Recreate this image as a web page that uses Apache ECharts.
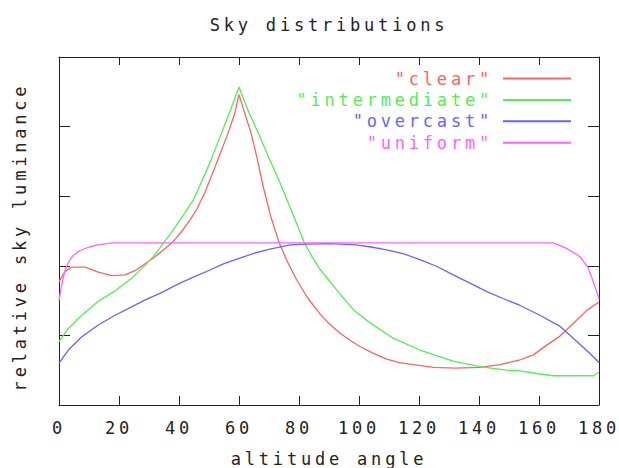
<!DOCTYPE html>
<html><head><meta charset="utf-8">
<script src="https://cdn.jsdelivr.net/npm/echarts/dist/echarts.min.js"></script>
<style>
html,body{margin:0;padding:0;background:#fff;}
#chart{width:619px;height:468px;}
#chart text{letter-spacing:3.8px;}
</style></head><body><div id="chart"></div>
<script>
// ---- data ----
const seriesNames = ['"clear"', '"intermediate"', '"overcast"', '"uniform"'];
const seriesColors = ['#ff6262', '#52ee52', '#6464ff', '#ff62ff'];

const clearAngles = [0, 2, 4.2, 8.7, 13.1, 17.6, 22, 25.3, 28.7, 31.4, 34, 38.1, 41, 43.7, 46, 48.6, 52, 56.4, 58.5, 60,
  62, 64, 66, 68, 70.5, 73.4, 76, 79.2, 83, 87, 90, 93.7, 97, 100.3, 104.5, 109.2, 113.5, 118.1, 124.8, 132, 140.3,
  147, 153.7, 158.1, 162.6, 167, 171.4, 175.9, 180];
const clearValues = [1.77, 1.92, 1.98, 1.98, 1.91, 1.86, 1.87, 1.93, 2.03, 2.11, 2.20, 2.35, 2.50, 2.66, 2.82, 3.05, 3.42, 3.91, 4.18, 4.46,
  4.18, 3.91, 3.55, 3.15, 2.72, 2.33, 2.07, 1.80, 1.53, 1.31, 1.17, 1.03, 0.93, 0.84, 0.75, 0.66, 0.61, 0.58, 0.54, 0.53, 0.54,
  0.58, 0.65, 0.72, 0.86, 0.99, 1.17, 1.36, 1.48];

const intermediateAngles = [0, 3.1, 7.6, 13.1, 18.7, 24.2, 28.7, 31.4, 34.2, 38.1, 41.5, 44.8, 46, 50, 54.2, 57, 60,
  63, 66.4, 70, 73.7, 77, 79.5, 81.8, 84.5, 87, 92.6, 98.1, 103.7, 111.4, 120.3, 131.4, 140.3, 149.2, 153.7, 158.1,
  164.8, 172, 178.1, 180];
const intermediateValues = [0.91, 1.10, 1.29, 1.49, 1.64, 1.82, 2.01, 2.13, 2.29, 2.52, 2.73, 2.95, 3.06, 3.45, 3.91, 4.22, 4.57,
  4.23, 3.91, 3.55, 3.19, 2.84, 2.58, 2.33, 2.12, 1.95, 1.65, 1.37, 1.18, 0.96, 0.79, 0.63, 0.55, 0.50, 0.49, 0.46,
  0.42, 0.42, 0.42, 0.47];

const overcastAngles = [0, 3.1, 7.6, 13.1, 18.7, 24.2, 28.7, 34, 40.3, 45, 50.3, 55, 60.3, 65, 70.3, 77, 82.6, 90, 99,
  104, 109.2, 115, 120.3, 126, 131.4, 137, 142.6, 148, 153.7, 160.3, 167, 173.7, 177, 180];
const overcastValues = [0.60, 0.79, 0.98, 1.15, 1.29, 1.41, 1.51, 1.61, 1.75, 1.84, 1.94, 2.03, 2.11, 2.18, 2.24, 2.30, 2.31, 2.32, 2.30,
  2.27, 2.23, 2.17, 2.09, 1.99, 1.87, 1.75, 1.63, 1.53, 1.43, 1.29, 1.13, 0.87, 0.74, 0.61];

const uniformAngles = [0, 1, 2, 3, 4.5, 7, 10, 13, 17.6, 164.8, 169.2, 173.7, 176.4, 178.1, 180];
const uniformValues = [1.50, 1.75, 1.93, 2.04, 2.14, 2.22, 2.27, 2.30, 2.33, 2.33, 2.25, 2.13, 1.97, 1.77, 1.53];

const xTicks = [0, 20, 40, 60, 80, 100, 120, 140, 160, 180];
const titleText = 'Sky distributions';
const xName = 'altitude angle';
const yName = 'relative sky luminance';

// ---- chart ----
const FONT = '"DejaVu Sans Mono", "Liberation Mono", monospace';
const INK = '#222';
const pairs = (a, v) => a.map((x, i) => [x, v[i]]);
const allData = [
  pairs(clearAngles, clearValues),
  pairs(intermediateAngles, intermediateValues),
  pairs(overcastAngles, overcastValues),
  pairs(uniformAngles, uniformValues)
];

const chart = echarts.init(document.getElementById('chart'), null, {renderer: 'svg'});
const frameAxis = (extra) => Object.assign({
  type: 'value',
  axisLine: {show: true, onZero: false, lineStyle: {color: INK, width: 1}},
  splitLine: {show: false},
  axisLabel: {show: false}
}, extra);

chart.setOption({
  animation: false,
  backgroundColor: '#fff',
  grid: {left: 59, right: 20, top: 57, bottom: 63, containLabel: false},
  graphic: [
    {type: 'text', x: 329, y: 25, style: {text: titleText, font: '17px ' + FONT, fill: INK, textAlign: 'center', textVerticalAlign: 'middle'}},
    {type: 'text', x: 329, y: 459, style: {text: xName, font: '17px ' + FONT, fill: INK, textAlign: 'center', textVerticalAlign: 'middle'}},
    {type: 'text', x: 20, y: 237, rotation: Math.PI / 2, style: {text: yName, font: '17px ' + FONT, fill: INK, textAlign: 'center', textVerticalAlign: 'middle'}}
  ],
  legend: {
    orient: 'vertical', right: 42, top: 65, align: 'right',
    itemWidth: 68, itemHeight: 14, itemGap: 4.4,
    itemStyle: {opacity: 0},
    formatter: (n) => '{t|' + n + '}',
    textStyle: {fontFamily: FONT, fontSize: 17, lineHeight: 17,
      rich: {t: {fontFamily: FONT, fontSize: 17, lineHeight: 17, padding: [0, 5, 0, 0]}}},
    data: seriesNames.map((n, i) => ({name: n, textStyle: {color: seriesColors[i], rich: {t: {color: seriesColors[i]}}}}))
  },
  xAxis: [
    frameAxis({position: 'bottom', min: 0, max: 180, interval: 20,
      axisTick: {show: true, inside: true, length: 9, lineStyle: {color: INK}},
      axisLabel: {show: true, margin: 14, color: INK, fontFamily: FONT, fontSize: 17,
        formatter: (v) => xTicks.indexOf(v) >= 0 ? String(v) : ''}}),
    frameAxis({position: 'top', min: 0, max: 180, interval: 20,
      axisTick: {show: true, inside: true, length: 8, lineStyle: {color: INK}}})
  ],
  yAxis: [
    frameAxis({position: 'left', min: 0, max: 5, interval: 1,
      axisTick: {show: true, inside: true, length: 11, lineStyle: {color: INK}}}),
    frameAxis({position: 'right', min: 0, max: 5, interval: 1,
      axisTick: {show: true, inside: true, length: 11, lineStyle: {color: INK}}})
  ],
  series: seriesNames.map((n, i) => ({
    name: n, type: 'line', xAxisIndex: 0, yAxisIndex: 0,
    data: allData[i], showSymbol: false, symbol: 'none', smooth: false,
    lineStyle: {color: seriesColors[i], width: 1.3},
    itemStyle: {color: seriesColors[i]},
    emphasis: {disabled: true}
  }))
});
</script></body></html>
